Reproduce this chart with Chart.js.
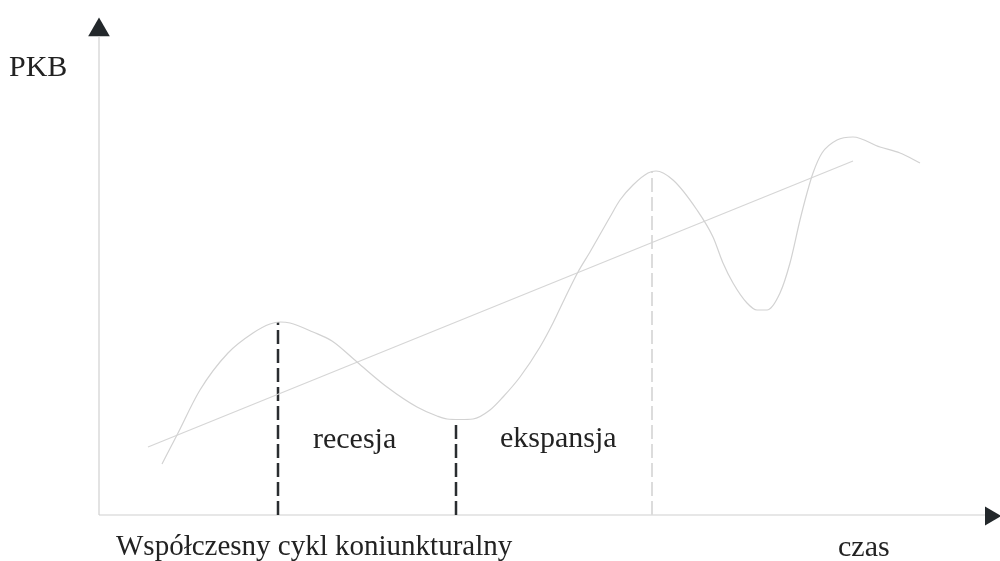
<!DOCTYPE html>
<html>
<head>
<meta charset="utf-8">
<script src="https://cdn.jsdelivr.net/npm/chart.js@4"></script>
<style>
  body { margin: 0; background: #fff; }
  canvas { display: block; }
</style>
</head>
<body>
<canvas id="chart" width="1000" height="561"></canvas>
<script>
// PKB curve over time (time units, PKB units)
const cycleT = [6.3, 7.8, 10.1, 12.9, 15.4, 17.1, 18.1, 19.1, 21.4, 23.3, 25.8, 28.8, 31.8, 33.8, 34.8, 36.1, 37.4, 39.1, 40.4, 42.1, 44.1, 45.4,
                46.6, 47.9, 49.1,
                51.1, 52.1, 53.4, 54.9, 55.7, 57.4, 59.8, 61.4, 62.4, 63.4, 64.8, 65.8, 66.8, 68.1, 69.1, 70.1, 70.8, 71.4, 72.3, 73.8, 75.4, 78.1, 80.1, 82.1];
const cyclePKB = [10.2, 16, 25, 32.4, 36.4, 38.2, 38.6, 38.4, 36.6, 34.8, 30.6, 25.6, 21.6, 19.8, 19.2, 19.1, 19.2, 21, 23.6, 27.6, 33.6, 38.4,
                  43.4, 48.6, 52.6,
                  59.6, 63, 66, 68.4, 68.8, 67, 61, 55.6, 50.4, 46.4, 42.4, 41, 41, 44.4, 50.4, 59, 64.4, 68.4, 72.4, 75, 75.6, 73.6, 72.4, 70.4];

// long-term trend
const trendT = [4.9, 75.4];
const trendPKB = [13.6, 70.8];

// phase boundaries: peak, trough, peak
const phaseT = [17.9, 35.7, 55.3];
const phaseTop = [38.6, 19.2, 68.6];

// axes
const axisEndT = 88.6;
const axisEndPKB = 95.8;

const labels = {
  yTitle: "PKB",
  xTitle: "czas",
  caption: "Współczesny cykl koniunkturalny",
  phases: ["recesja", "ekspansja"]
};

const pts = (xs, ys) => xs.map((x, i) => ({ x: x, y: ys[i] }));

const phaseSets = phaseT.map((t, i) => ({
  type: "line",
  data: [{ x: t, y: 0 }, { x: t, y: phaseTop[i] }],
  borderColor: i < 2 ? "#2a2d30" : "#dcdcdc",
  borderWidth: i < 2 ? 2.5 : 2,
  borderDash: [14, 5],
  pointRadius: 0
}));

const textPlugin = {
  id: "texts",
  afterDraw(chart) {
    const ctx = chart.ctx;
    ctx.save();
    ctx.fillStyle = "#222";
    ctx.font = "30px 'Liberation Serif', 'Times New Roman', serif";
    ctx.textBaseline = "alphabetic";
    ctx.fillText(labels.yTitle, 9, 76);
    ctx.fillText(labels.phases[0], 313, 448);
    ctx.fillText(labels.phases[1], 500, 447);
    ctx.fillText(labels.xTitle, 838, 556);
    ctx.font = "29px 'Liberation Serif', 'Times New Roman', serif";
    ctx.fillText(labels.caption, 116, 555);
    ctx.restore();
  }
};

new Chart(document.getElementById("chart"), {
  type: "line",
  data: {
    datasets: [
      {
        data: pts(cycleT, cyclePKB),
        borderColor: "#d2d2d2",
        borderWidth: 1.2,
        cubicInterpolationMode: "monotone",
        pointRadius: 0
      },
      {
        data: pts(trendT, trendPKB),
        borderColor: "#d6d6d6",
        borderWidth: 1.2,
        pointRadius: 0
      },
      ...phaseSets,
      {
        data: [{ x: 0, y: 0 }, { x: 0, y: axisEndPKB }],
        borderColor: "#d0d0d0",
        borderWidth: 1.2,
        pointRadius: 0
      },
      {
        data: [{ x: 0, y: 0 }, { x: axisEndT, y: 0 }],
        borderColor: "#d0d0d0",
        borderWidth: 1.2,
        pointRadius: 0
      },
      {
        type: "scatter",
        data: [{ x: 0, y: 97 }, { x: 89.15, y: -0.2 }],
        pointStyle: "triangle",
        rotation: [0, 90],
        pointRadius: [12.5, 11],
        backgroundColor: "#23282b",
        borderColor: "#23282b",
        borderWidth: 0
      }
    ]
  },
  options: {
    responsive: false,
    animation: false,
    events: [],
    clip: false,
    layout: { autoPadding: false, padding: { left: 79, right: 1, top: 0, bottom: 36 } },
    plugins: { legend: { display: false }, tooltip: { enabled: false } },
    scales: {
      x: { type: "linear", min: -2, max: 90, display: false },
      y: { type: "linear", min: -2, max: 103, display: false }
    }
  },
  plugins: [textPlugin]
});
</script>
</body>
</html>
